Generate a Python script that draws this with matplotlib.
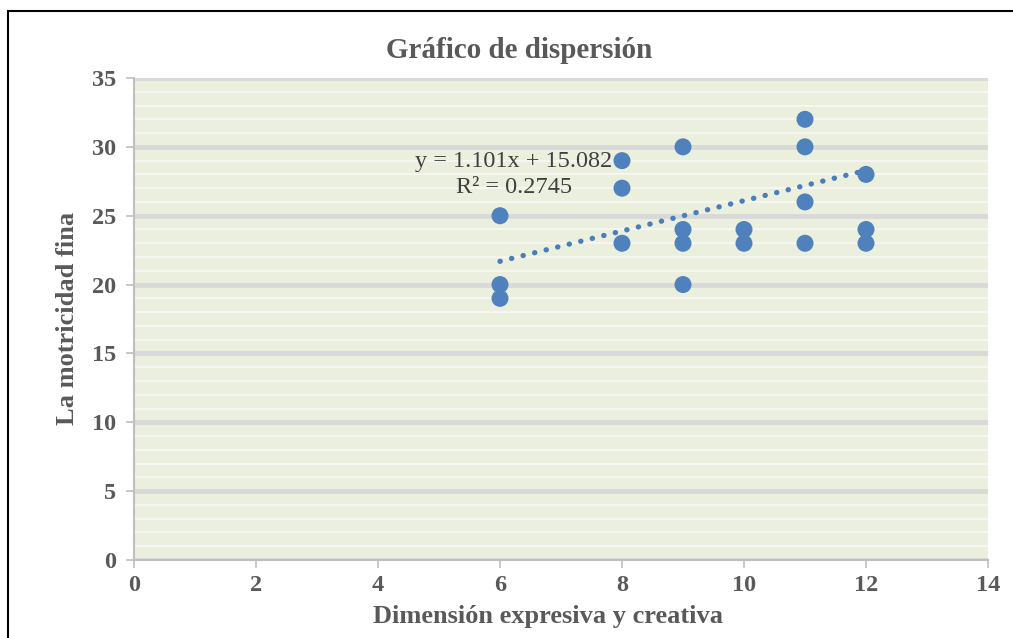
import numpy as np
import matplotlib.pyplot as plt
from matplotlib.patches import Rectangle
from matplotlib.ticker import MultipleLocator

# data
x = [6, 6, 6, 8, 8, 8, 9, 9, 9, 9, 10, 10, 11, 11, 11, 11, 12, 12, 12]
y = [25, 20, 19, 29, 27, 23, 30, 24, 23, 20, 24, 23, 32, 30, 26, 23, 28, 24, 23]
slope = 1.101
intercept = 15.082
r2 = 0.2745

plt.rcParams['font.family'] = ['Liberation Serif', 'DejaVu Serif']

fig = plt.figure(figsize=(10.13, 6.38), dpi=100)
ax = fig.add_axes([134/1013, 1 - 560/638, (988 - 134)/1013, (560 - 78)/638])

ax.set_facecolor('#ebefdd')
ax.set_xlim(0, 14)
ax.set_ylim(0, 35)
ax.xaxis.set_major_locator(MultipleLocator(2))
ax.yaxis.set_major_locator(MultipleLocator(5))
ax.yaxis.set_minor_locator(MultipleLocator(1))
ax.grid(axis='y', which='minor', color='#f6f6f0', lw=1.6, zorder=0)
ax.grid(axis='y', which='major', color='#d9d9d9', lw=3.5, zorder=0.5)
ax.set_axisbelow(True)

for s in ['top', 'right']:
    ax.spines[s].set_visible(False)
for s in ['left', 'bottom']:
    ax.spines[s].set_color('#bfbfbf')
    ax.spines[s].set_linewidth(1.5)
ax.tick_params(which='major', direction='out', length=6, color='#bfbfbf', width=1.2,
               labelsize=17.5, labelcolor='#595959', pad=7)
ax.tick_params(axis='x', pad=5)
ax.tick_params(which='minor', length=0)
for lbl in ax.get_xticklabels() + ax.get_yticklabels():
    lbl.set_fontweight('bold')

ax.scatter(x, y, s=150, color='#4f81bd', edgecolors='none', zorder=3)

xt = np.array([min(x), max(x)])
ax.plot(xt, slope * xt + intercept, ls=(0, (0.05, 2.2)), lw=3.8, color='#4a7ebb',
        dash_capstyle='round', zorder=2)

ax.text(6.23, 28, 'y = %.3fx + %.3f\nR² = %.4f' % (slope, intercept, r2), ha='center',
        va='center', fontsize=17.5, color='#404040', linespacing=1.3, zorder=4)

fig.text(519/1013, 1 - 50/638, 'Gráfico de dispersión', fontsize=21, fontweight='bold',
         color='#595959', ha='center', va='center')
fig.text(548/1013, 1 - 616/638, 'Dimensión expresiva y creativa', fontsize=19,
         fontweight='bold', color='#595959', ha='center', va='center')
fig.text(68/1013, 1 - 318/638, 'La motricidad fina', fontsize=19, fontweight='bold',
         color='#595959', ha='center', va='center', rotation=90)

# outer frame
fig.patches.append(Rectangle((7.5/1013, -0.1), 1.2, 1 - 11/638 + 0.1, transform=fig.transFigure,
                             fill=False, ec='black', lw=1.5))

fig.savefig('out.png', dpi=100)
